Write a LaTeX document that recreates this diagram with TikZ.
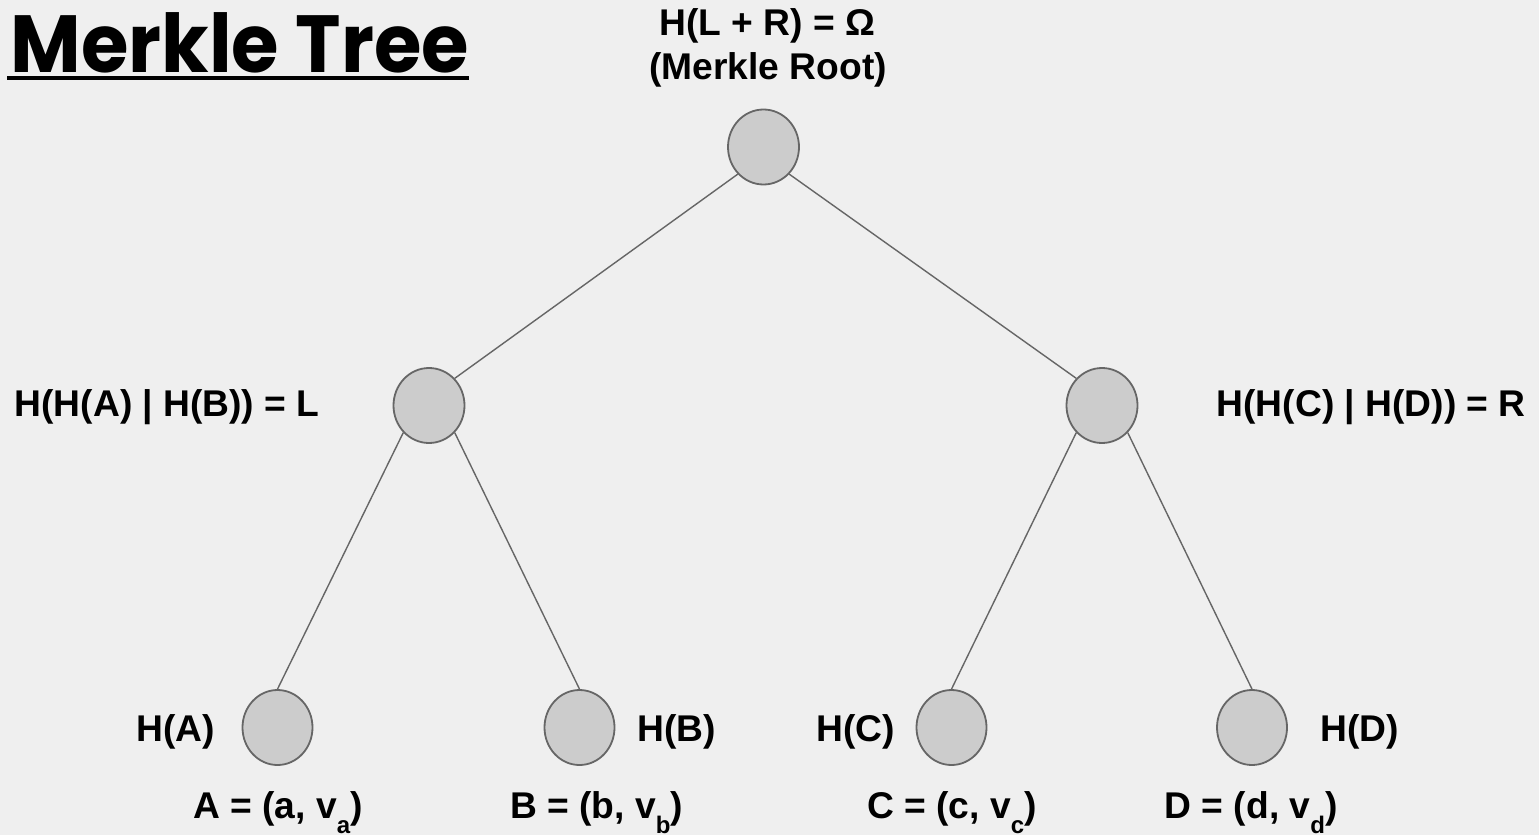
\documentclass[tikz,border=0pt]{standalone}
\usepackage{fontspec}
\setmainfont{Liberation Sans}
\newfontfamily\titlefont{Poppins}
\usetikzlibrary{shapes.geometric}

\definecolor{pagebg}{HTML}{EFEFEF}
\definecolor{hashfill}{HTML}{CCCCCC}
\definecolor{hashline}{HTML}{666666}

% subscript lowered well below the baseline
\newcommand{\lowsub}[1]{\raisebox{-14.5pt}{\fontsize{24}{24}\selectfont #1}}

\tikzset{
  hashnode/.style={ellipse, draw=hashline, line width=1.8pt, fill=hashfill,
                   minimum width=71pt, minimum height=75pt, inner sep=0pt},
  leafnode/.style={hashnode, minimum width=70pt},
  edge/.style={draw=hashline, line width=1.4pt},
  lbl/.style={inner sep=0pt, font=\fontsize{37.2}{44}\selectfont\bfseries},
}

\begin{document}
\begin{tikzpicture}[x=1pt, y=-1pt]
  % page background and extent
  \fill[pagebg] (0,0) rectangle (1539,835);
  \useasboundingbox (0,0) rectangle (1539,835);

  % title
  \node[inner sep=0pt, anchor=base west,
        font=\titlefont\bfseries\fontsize{81}{81}\selectfont] (title) at (10.5,72.3)
        {\scalebox{0.95}[1]{Merkle Tree}};
  \coordinate (ulstart) at (7,78);
  \coordinate (ulend) at (469,78);
  \draw[line width=3.6pt, black] (ulstart) -- (ulend);

  % tree nodes
  \node[hashnode] (root) at (763.5,147) {};
  \node[hashnode] (left) at (429,405.5) {};
  \node[hashnode] (right) at (1102,405.5) {};
  \node[leafnode] (la) at (277.5,727.5) {};
  \node[leafnode] (lb) at (579.5,727.5) {};
  \node[leafnode] (lc) at (951.5,727.5) {};
  \node[leafnode] (ld) at (1252,727.5) {};

  % connectors
  \draw[edge] (root.south west) -- (left.north east);
  \draw[edge] (root.south east) -- (right.north west);
  \draw[edge] (left.south west) -- (la.north);
  \draw[edge] (left.south east) -- (lb.north);
  \draw[edge] (right.south west) -- (lc.north);
  \draw[edge] (right.south east) -- (ld.north);

  % labels
  \node[lbl, anchor=base] (rootname) at (767.5,35) {H(L + R) = Ω};
  \node[lbl, anchor=base] (rootnote) at (768,79) {(Merkle Root)};
  \node[lbl, anchor=base west] (leftname) at (14.5,416) {H(H(A) | H(B)) = L};
  \node[lbl, anchor=base west] (rightname) at (1216.5,416) {H(H(C) | H(D)) = R};

  \node[lbl, anchor=base west] (hA) at (136.5,741.5) {H(A)};
  \node[lbl, anchor=base west] (hB) at (637,741.5) {H(B)};
  \node[lbl, anchor=base west] (hC) at (816.5,741.5) {H(C)};
  \node[lbl, anchor=base west] (hD) at (1320,741.5) {H(D)};

  \node[lbl, anchor=base west] (dA) at (193,818.5) {A = (a, v\lowsub{a})};
  \node[lbl, anchor=base west] (dB) at (510,818.5) {B = (b, v\lowsub{b})};
  \node[lbl, anchor=base west] (dC) at (867,818.5) {C = (c, v\lowsub{c})};
  \node[lbl, anchor=base west] (dD) at (1164.5,818.5) {D = (d, v\lowsub{d})};
\end{tikzpicture}
\end{document}
